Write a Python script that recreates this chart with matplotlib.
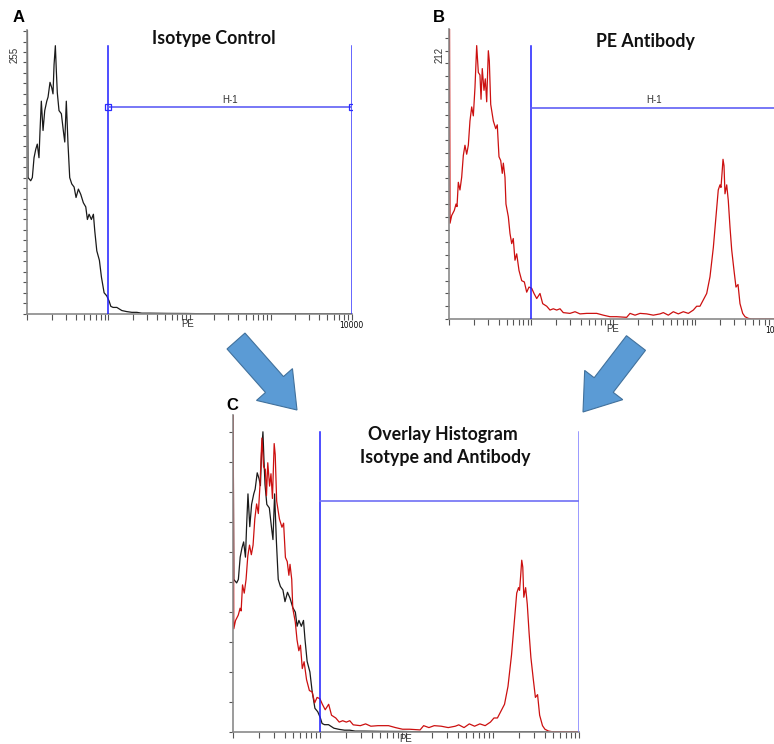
import matplotlib.pyplot as plt
from matplotlib.patches import FancyArrow
from matplotlib.ticker import LogLocator, MultipleLocator, NullFormatter

W, H = 774, 744

# Isotype control histogram (panel A): PE position in decades, event counts
iso_dec = [0, 0.009, 0.042, 0.062, 0.083, 0.104, 0.123, 0.144, 0.157, 0.173, 0.194,
           0.215, 0.240, 0.256, 0.280, 0.301, 0.317, 0.330, 0.346, 0.358, 0.370,
           0.391, 0.420, 0.444, 0.462, 0.481, 0.502, 0.523, 0.548, 0.577, 0.601,
           0.630, 0.659, 0.691, 0.721, 0.741, 0.762, 0.790, 0.815, 0.832, 0.857,
           0.889, 0.914, 0.947, 0.980, 1.009, 1.030, 1.058, 1.104, 1.166, 1.227,
           1.289, 1.350, 1.412, 1.514, 1.719, 1.966, 2.13, 4.0]
iso_cnt = [300, 130, 127, 130, 149, 157, 162, 149, 175, 203, 175,
           194, 203, 207, 221, 216, 210, 238, 256, 232, 211,
           194, 191, 175, 164, 203, 162, 130, 124, 121, 111,
           119, 114, 106, 102, 90, 95, 90, 95, 79, 60,
           51, 35, 20, 17, 12, 7, 6, 6, 3, 2,
           1.3, 1.3, 0.5, 0.5, 0.3, 0.2, 0, 0]

# PE antibody histogram (panel B)
ab_dec = [0, 0.009, 0.029, 0.061, 0.082, 0.094, 0.110, 0.130, 0.151, 0.171, 0.191,
          0.212, 0.232, 0.252, 0.273, 0.293, 0.313, 0.334, 0.354, 0.374, 0.387,
          0.402, 0.423, 0.439, 0.456, 0.476, 0.488, 0.505, 0.537, 0.566, 0.585,
          0.606, 0.627, 0.646, 0.659, 0.679, 0.691, 0.720, 0.740, 0.761, 0.780,
          0.801, 0.822, 0.850, 0.883, 0.915, 0.944, 0.972, 1.005, 1.033, 1.066,
          1.106, 1.139, 1.188, 1.228, 1.268, 1.310, 1.350, 1.390, 1.472, 1.533,
          1.594, 1.676, 1.798, 1.878, 1.960, 2.041, 2.163, 2.204, 2.265, 2.326,
          2.407, 2.488, 2.570, 2.610, 2.671, 2.732, 2.793, 2.854, 2.915, 2.976,
          3.017, 3.057, 3.098, 3.139, 3.179, 3.220, 3.252, 3.280, 3.301, 3.313,
          3.326, 3.338, 3.350, 3.362, 3.383, 3.402, 3.423, 3.444, 3.472, 3.496,
          3.521, 3.545, 3.578, 3.606, 3.646, 3.688, 4.0]
ab_cnt = [300, 75, 81, 85, 90, 88, 107, 101, 111, 128, 136,
          129, 136, 155, 166, 159, 181, 214, 193, 191, 172,
          196, 179, 188, 170, 210, 202, 168, 155, 149, 152,
          127, 124, 114, 122, 111, 90, 80, 67, 59, 63,
          46, 51, 38, 30, 29, 21, 25, 24, 20, 16,
          20, 12, 10, 7, 8, 7, 8, 5, 4.4, 5.7,
          4, 4.4, 4.4, 3, 1.8, 1.8, 1.3, 4.4, 3, 4.4,
          4, 3, 4, 5, 3, 5.7, 4, 5.7, 4.4, 7,
          10, 10, 15, 20, 33, 56, 80, 101, 105, 103,
          114, 125, 120, 98, 105, 93, 72, 54, 38, 25,
          27, 12, 4.4, 1.8, 0.5, 0, 0]

# overlay (panel C) rescales both histograms to percent of max
iso_scale = 100 / 256
ab_scale = 0.4575

gate_a = (10, 10000, 197, 256)   # lower, upper, H-1 level, top of gate lines
gate_b = (10, 10000, 165, 214)
gate_c = (10, 10000, 76.9, 100)

fig = plt.figure(figsize=(W / 100, H / 100), dpi=100)


def px_axes(l, t, r, b):
    return fig.add_axes([l / W, 1 - b / H, (r - l) / W, (b - t) / H])


def style(ax, ytop, ystep, last_label):
    ax.set_xscale('log')
    ax.set_xlim(1, 1e4)
    ax.set_ylim(0, ytop)
    for s in ['top', 'right']:
        ax.spines[s].set_visible(False)
    for s in ['left', 'bottom']:
        ax.spines[s].set_color('#8a8a8a')
        ax.spines[s].set_linewidth(1.2)
    ax.set_xticks([1, 10, 100, 1000, 10000])
    ax.set_xticklabels(['', '', '', '', last_label])
    ax.xaxis.set_minor_locator(LogLocator(base=10, subs=range(2, 10), numticks=20))
    ax.xaxis.set_minor_formatter(NullFormatter())
    ax.tick_params(axis='x', which='both', direction='out', length=4, width=0.8,
                   color='#555555', labelsize=5.5, pad=1)
    ax.yaxis.set_major_locator(MultipleLocator(ystep))
    ax.tick_params(axis='y', direction='out', length=3, width=0.8, color='#555555',
                   labelleft=False)
    ax.patch.set_alpha(0)


def gate(ax, g, hcolor, rcolor, label, squares=False):
    lo, hi, level, top = g
    ax.plot([lo, lo], [0, top], color='#1c1cff', lw=1.1, zorder=4)
    ax.plot([hi, hi], [0, top], color=rcolor, lw=1.1, zorder=4)
    ax.plot([lo, hi], [level, level], color=hcolor, lw=1.2, zorder=4)
    if squares:
        ax.plot([lo, hi], [level, level], 's', ms=4, mfc='none', mec='#2a2aff', mew=0.9, zorder=5)
    if label:
        ax.annotate(label, (10 ** 2.5, level), xytext=(0, 2), textcoords='offset points',
                    ha='center', va='bottom', fontsize=7, color='#333333',
                    family='Liberation Sans')


iso_x = [10 ** d for d in iso_dec]
ab_x = [10 ** d for d in ab_dec]

# Panel A
axA = px_axes(27.3, 30, 351.7, 313.7)
style(axA, 271, 10, '10000')
axA.plot(iso_x, iso_cnt, color='#1a1a1a', lw=0.9)
gate(axA, gate_a, '#6060f5', '#3a3aff', 'H-1', squares=True)

# Panel B
axB = px_axes(449.3, 29, 777.3, 319)
style(axB, 227, 10, '10000')
axB.plot(ab_x, ab_cnt, color='#cc1010', lw=0.9)
gate(axB, gate_b, '#6060f5', '#3a3aff', 'H-1')

# Panel C
axC = px_axes(233, 415, 579, 731.7)
style(axC, 105.6, 10, '')
axC.plot(iso_x, [c * iso_scale for c in iso_cnt], color='#1a1a1a', lw=0.9)
axC.plot(ab_x, [c * ab_scale for c in ab_cnt], color='#cc1010', lw=0.9)
gate(axC, gate_c, '#7070f5', '#7f7fff', None)

# Free text and arrows, in pixel coordinates
ov = fig.add_axes([0, 0, 1, 1])
ov.set_xlim(0, W)
ov.set_ylim(H, 0)
ov.axis('off')
ov.patch.set_alpha(0)

letter = dict(fontsize=12, fontweight='bold', family='Liberation Sans', ha='center', va='center')
ov.text(19, 17, 'A', **letter)
ov.text(438.5, 18, 'B', **letter)
ov.text(232, 405, 'C', **letter)

title = dict(fontsize=12.8, fontweight='bold', family='Lato', ha='center', va='baseline', color='#111111')
ov.text(214, 44, 'Isotype Control', **title)
ov.text(645.5, 47, 'PE Antibody', **title)
ov.text(442.6, 440, 'Overlay Histogram', **title)
ov.text(445.5, 463, 'Isotype and Antibody', **title)

small = dict(fontsize=7, family='Liberation Sans', color='#333333', ha='center', va='center')
ov.text(188, 324, 'PE', **small)
ov.text(613, 329, 'PE', **small)
ov.text(406, 738.5, 'PE', **small)
ov.text(15, 55, '255', rotation=90, **small)
ov.text(440, 55, '212', rotation=90, **small)

arrow = dict(width=24, head_width=48, head_length=34, length_includes_head=True,
             fc='#5b9bd5', ec='#41719c', lw=0.8)
ov.add_patch(FancyArrow(236, 341, 61, 69, **arrow))
ov.add_patch(FancyArrow(636, 343, -53, 69, **arrow))

fig.savefig('out.png', dpi=100)
